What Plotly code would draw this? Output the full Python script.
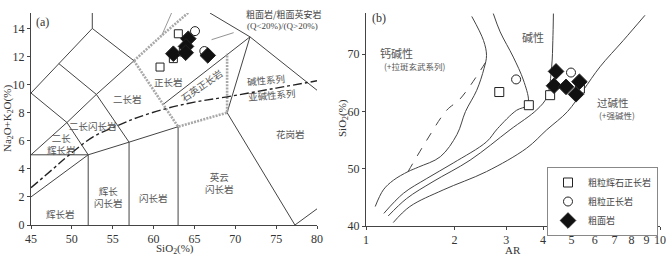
import math
import plotly.graph_objects as go

W, H = 669, 258

# ---------------- Panel (a) data: TAS boundaries and samples ----------------
tas_lines = [
    [(45, 9.4), (48.4, 11.5), (52.5, 14), (57.6, 11.7)],
    [(52.5, 14), (52.5, 15.1)],
    [(48.4, 11.5), (53, 9.3)],
    [(45, 9.4), (49.4, 7.3), (52, 5)],
    [(45, 5), (52, 5)],
    [(45, 5), (49.4, 7.3)],
    [(49.4, 7.3), (53, 9.3), (57.6, 11.7)],
    [(53, 9.3), (57, 5.9)],
    [(45, 2), (52, 5), (57, 5.9), (63, 7)],
    [(52, 0), (52, 5)],
    [(57, 0), (57, 5.9)],
    [(63, 0), (63, 7)],
    [(69, 8), (77.3, 0), (80, 1.15)],
    [(69, 8), (71.8, 13.4)],
    [(61.2, 8.6), (71.8, 13.4)],
    [(66.9, 15.1), (71.8, 13.4), (80, 9.6)],
]
tas_gray_thin = [(61, 13.5), (62.2, 15.1)]
tas_leader = [(67.1, 13.2), (69.8, 13.7)]
tas_dotted = [
    [(57.6, 11.7), (61, 13.5), (64.4, 15.2)],
    [(57.6, 11.7), (63, 7), (69, 8), (69, 12.2)],
]
alk_sio2 = [45, 47.9, 49.4, 52.6, 55.5, 58, 61.6, 65, 69, 75, 80]
alk_total = [2.65, 4.1, 4.86, 6.28, 7.05, 7.65, 8.3, 8.75, 9.13, 9.75, 10.27]

a_sq_x = [63.03, 62.42, 63.64, 60.79]
a_sq_y = [13.62, 11.85, 12.32, 11.25]
a_ci_x = [65.07, 66.21]
a_ci_y = [13.81, 12.39]
a_di_x = [64.25, 63.97, 62.42, 63.93, 66.63]
a_di_y = [13.27, 12.72, 12.2, 12.27, 12.08]

a_labels = [
    ("正长岩", 61.8, 10.2, 0),
    ("石英正长岩", 65.96, 9.96, -35),
    ("碱性系列", 73.8, 10.3, -5),
    ("亚碱性系列", 74.5, 9.25, -5),
    ("二长岩", 56.8, 9.0, 0),
    ("二长闪长岩", 52.6, 7.05, 0),
    ("二长<br>辉长岩", 48.75, 5.75, 0),
    ("辉长岩", 48.55, 0.76, 0),
    ("辉长<br>闪长岩", 54.46, 1.98, 0),
    ("闪长岩", 59.97, 1.94, 0),
    ("英云<br>闪长岩", 68.1, 2.97, 0),
    ("花岗岩", 76.7, 6.48, 0),
]

# ---------------- Panel (b) data: AR vs SiO2 ----------------
c1_ar = [2.29, 2.51, 2.57, 2.52, 2.38, 2.18, 2.04, 1.79, 1.51, 1.39, 1.24, 1.145, 1.075]
c1_si = [76.6, 72.4, 69.8, 67.5, 63.7, 60.0, 56.0, 52.1, 50.3, 49.5, 48.0, 46.3, 43.4]
cd_ar = [1.39, 1.61, 1.88, 2.09, 2.56]
cd_si = [49.5, 55.0, 60.2, 62.2, 68.7]
c2_ar = [2.71, 2.86, 3.17, 3.43, 3.57, 3.52, 3.25, 2.80, 2.57, 1.98, 1.61, 1.34, 1.15]
c2_si = [77.1, 73.9, 69.5, 65.5, 62.0, 61.0, 60.2, 57.0, 54.7, 51.0, 48.3, 45.7, 42.2]
c3_ar = [4.34, 4.32, 4.28, 4.12, 3.81, 3.09, 2.26, 1.69, 1.375, 1.19]
c3_si = [77.1, 72.4, 67.8, 62.5, 60.3, 56.8, 51.5, 47.75, 44.8, 41.75]
c4_ar = [8.89, 7.5, 6.25, 5.48, 4.85, 4.12, 3.52, 2.57, 1.83, 1.41, 1.238]
c4_si = [76.8, 72.4, 67.8, 63.7, 60.0, 56.8, 53.6, 49.5, 46.3, 43.4, 40.6]

b_sq_x = [2.84, 3.58, 4.23, 5.34]
b_sq_y = [63.4, 61.1, 62.85, 64.0]
b_ci_x = [3.24, 4.98]
b_ci_y = [65.6, 66.8]
b_di_x = [4.43, 4.36, 4.79, 5.32, 5.18]
b_di_y = [67.0, 64.5, 64.3, 65.2, 63.0]

b_labels = [
    ("钙碱性", 1.272, 70.2, 11),
    ("(+拉斑玄武系列)", 1.468, 68.0, 8.5),
    ("碱性", 3.71, 73.0, 11),
    ("过碱性", 6.94, 61.5, 10.5),
    ("(+强碱性)", 7.12, 59.3, 8.5),
]

legend_names = ["粗粒辉石正长岩", "粗粒正长岩", "粗面岩"]
ar_ticks = [1, 2, 3, 4, 5, 6, 7, 8, 9, 10]

LINE = "#444"
SERIF = "Liberation Serif, Times New Roman, serif"
CJK = "Noto Sans CJK SC, sans-serif"

fig = go.Figure()

def seg(pts, xa, ya, color=LINE, width=1, dash="solid", shape="linear"):
    fig.add_trace(go.Scatter(
        x=[p[0] for p in pts], y=[p[1] for p in pts], mode="lines",
        line=dict(color=color, width=width, dash=dash, shape=shape),
        xaxis=xa, yaxis=ya, showlegend=False, hoverinfo="skip"))

for ln in tas_lines:
    seg(ln, "x", "y")
seg(tas_gray_thin, "x", "y", color="#999", width=1)
seg(tas_leader, "x", "y", color="#777", width=0.8)
for ln in tas_dotted:
    seg(ln, "x", "y", color="#a8a8a8", width=2.6, dash="2px,1.2px")
fig.add_trace(go.Scatter(x=alk_sio2, y=alk_total, mode="lines",
                         line=dict(color="#222", width=1.4, dash="dashdot", shape="spline"),
                         xaxis="x", yaxis="y", showlegend=False))

def pts(xs, ys, sym, size, fill, xa, ya, name=None, show=False):
    fig.add_trace(go.Scatter(
        x=xs, y=ys, mode="markers", name=name, showlegend=show,
        marker=dict(symbol=sym, size=size, color=fill,
                    line=dict(color="#222", width=1)),
        xaxis=xa, yaxis=ya))

pts(a_sq_x, a_sq_y, "square", 8, "white", "x", "y")
pts(a_ci_x, a_ci_y, "circle", 9, "white", "x", "y")
pts(a_di_x, a_di_y, "diamond", 12, "#111", "x", "y")

# panel b curves
for xs, ys in [(c1_ar, c1_si), (c2_ar, c2_si), (c3_ar, c3_si), (c4_ar, c4_si)]:
    fig.add_trace(go.Scatter(x=xs, y=ys, mode="lines",
                             line=dict(color=LINE, width=1, shape="spline"),
                             xaxis="x2", yaxis="y2", showlegend=False))
fig.add_trace(go.Scatter(x=cd_ar, y=cd_si, mode="lines",
                         line=dict(color=LINE, width=1, dash="dash", shape="spline"),
                         xaxis="x2", yaxis="y2", showlegend=False))

pts(b_sq_x, b_sq_y, "square", 9, "white", "x2", "y2", legend_names[0], True)
pts(b_ci_x, b_ci_y, "circle", 9, "white", "x2", "y2", legend_names[1], True)
pts(b_di_x, b_di_y, "diamond", 12, "#111", "x2", "y2", legend_names[2], True)

ann = []
def add_ann(**kw):
    kw.setdefault("xanchor", "center")
    kw.setdefault("yanchor", "middle")
    kw.setdefault("showarrow", False)
    ann.append(kw)

for t, x, y, ang in a_labels:
    add_ann(text=t, x=x, y=y, xref="x", yref="y", textangle=ang,
            font=dict(size=9.5, color="#555", family=CJK))
add_ann(text="粗面岩/粗面英安岩", x=75.9, y=15.0, xref="x", yref="y",
        font=dict(size=9, color="#444", family=CJK))
add_ann(text="(Q<20%)/(Q>20%)", x=75.8, y=14.2, xref="x", yref="y",
        font=dict(size=9, color="#444", family=SERIF))
add_ann(text="(a)", x=46.4, y=14.47, xref="x", yref="y",
        font=dict(size=12, color="#333", family=SERIF))
for t, x, y, s in b_labels:
    add_ann(text=t, x=math.log10(x), y=y, xref="x2", yref="y2",
            font=dict(size=s, color="#555", family=CJK))
add_ann(text="(b)", x=math.log10(1.11), y=76.3, xref="x2", yref="y2",
        font=dict(size=12, color="#333", family=SERIF))
# axis titles
add_ann(text="Na<sub>2</sub>O+K<sub>2</sub>O(%)", x=8 / W, y=1 - 119 / H,
        xref="paper", yref="paper", textangle=-90,
        font=dict(size=11, color="#333", family=SERIF))
add_ann(text="SiO<sub>2</sub>(%)", x=175 / W, y=1 - 249 / H, xref="paper",
        yref="paper", font=dict(size=11, color="#333", family=SERIF))
add_ann(text="SiO<sub>2</sub>(%)", x=343 / W, y=1 - 118 / H, xref="paper",
        yref="paper", textangle=-90, font=dict(size=11, color="#333", family=SERIF))
add_ann(text="AR", x=513 / W, y=1 - 250 / H, xref="paper", yref="paper",
        font=dict(size=11, color="#333", family=SERIF))

axis_common = dict(showline=True, linecolor=LINE, linewidth=1, ticks="outside",
                   ticklen=3, tickcolor=LINE, showgrid=False, zeroline=False,
                   tickfont=dict(size=12, color="#333", family=SERIF), automargin=False)

fig.update_layout(
    width=W, height=H, margin=dict(l=0, r=0, t=0, b=0),
    paper_bgcolor="white", plot_bgcolor="white",
    xaxis=dict(domain=[31 / W, 317 / W], range=[45, 80], tickvals=list(range(45, 81, 5)),
               anchor="y", **axis_common),
    yaxis=dict(domain=[1 - 225 / H, 1 - 13 / H], range=[0, 15.1],
               tickvals=list(range(0, 15, 2)), anchor="x", **axis_common),
    xaxis2=dict(domain=[366 / W, 660 / W], type="log", range=[0, 1], tickvals=ar_ticks,
                ticktext=[str(v) for v in ar_ticks], anchor="y2", **axis_common),
    yaxis2=dict(domain=[1 - 226 / H, 1 - 13 / H], range=[40, 77.2],
                tickvals=[40, 50, 60, 70], anchor="x2", **axis_common),
    annotations=ann,
    showlegend=True,
    legend=dict(x=547 / W, y=1 - 167 / H, xanchor="left", yanchor="top",
                bordercolor="#888", borderwidth=1, bgcolor="white",
                font=dict(size=9, color="#444", family=CJK),
                itemwidth=30, tracegroupgap=0),
)

fig.write_html("out.html", config={"displayModeBar": False},
               post_script="document.body.style.margin='0px';document.body.style.overflow='hidden';")
